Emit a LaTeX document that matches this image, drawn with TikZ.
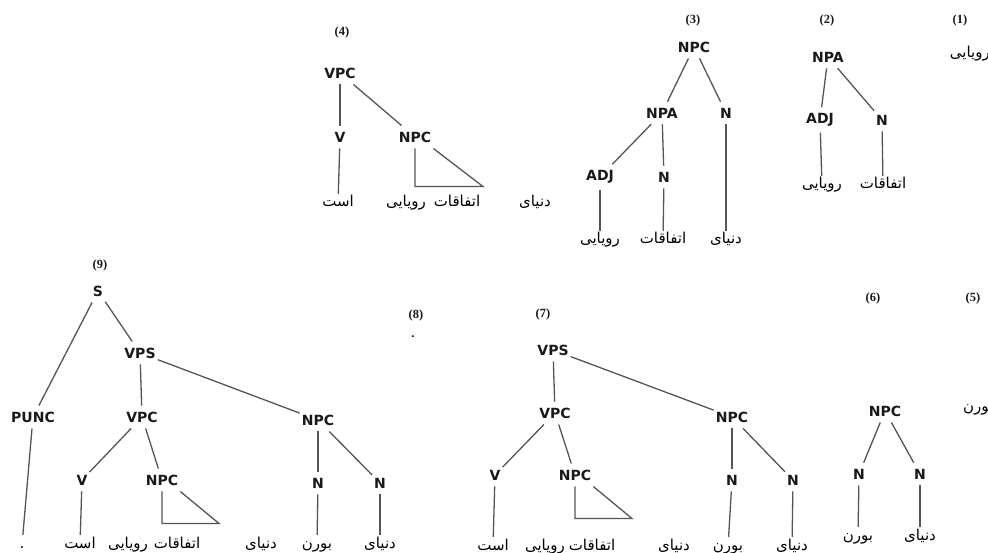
\documentclass[tikz,border=0pt]{standalone}
\usepackage{fontspec}
\TeXXeTstate=1
\newfontfamily\labfont{DejaVu Sans}
\newfontfamily\persfont[Script=Arabic]{DejaVu Sans}
\newfontfamily\numfont{Liberation Serif}
\newcommand\faword[1]{{\persfont\beginR #1\endR}}
\definecolor{lncol}{RGB}{85,85,85}
\definecolor{txcol}{RGB}{25,25,25}
\tikzset{
  lab/.style={font=\labfont\bfseries\fontsize{14}{14}\selectfont, text=txcol, inner xsep=2pt, inner ysep=6pt},
  wd/.style={font=\persfont\fontsize{15}{15}\selectfont, text=black, inner xsep=1pt, inner ysep=3pt, text height=10pt, text depth=4pt},
  num/.style={font=\numfont\bfseries\fontsize{12.5}{12.5}\selectfont, text=txcol, inner sep=1pt},
  edge/.style={draw=lncol, line width=1.3pt},
}
\begin{document}
\begin{tikzpicture}[x=1pt,y=-1pt]
\fill[white] (0,0) rectangle (988,553);
\useasboundingbox (0,0) rectangle (988,553);

% ---------- (1)
\node[num] (n1) at (960,20) {(1)};
\node[wd, anchor=east] (a-w) at (991,55) {\faword{رویایی}};

% ---------- (2)
\node[num] (n2) at (827,20) {(2)};
\node[lab] (b-npa) at (828,57) {NPA};
\node[lab] (b-adj) at (820,120) {ADJ};
\node[lab] (b-n) at (882,120) {N};
\node[wd] (b-w1) at (822,186) {\faword{رویایی}};
\node[wd] (b-w2) at (883,186) {\faword{اتفاقات}};
\draw[edge] (b-npa) -- (b-adj);
\draw[edge] (b-npa) -- (b-n);
\draw[edge] (b-adj) -- (b-w1);
\draw[edge] (b-n) -- (b-w2);

% ---------- (3)
\node[num] (n3) at (693,20) {(3)};
\node[lab] (c-npc) at (694,47) {NPC};
\node[lab] (c-npa) at (662,113) {NPA};
\node[lab] (c-n1) at (726,113) {N};
\node[lab] (c-adj) at (600,177) {ADJ};
\node[lab] (c-n2) at (664,177) {N};
\node[wd] (c-w1) at (600,241) {\faword{رویایی}};
\node[wd] (c-w2) at (663,241) {\faword{اتفاقات}};
\node[wd] (c-w3) at (726,241) {\faword{دنیای}};
\draw[edge] (c-npc) -- (c-npa);
\draw[edge] (c-npc) -- (c-n1);
\draw[edge] (c-npa) -- (c-adj);
\draw[edge] (c-npa) -- (c-n2);
\draw[edge] (c-adj) -- (c-w1);
\draw[edge] (c-n2) -- (c-w2);
\draw[edge] (c-n1) -- (c-w3);

% ---------- (4)
\node[num] (n4) at (342,32) {(4)};
\node[lab] (d-vpc) at (340,73) {VPC};
\node[lab] (d-v) at (340,137) {V};
\node[lab] (d-npc) at (415,137) {NPC};
\node[wd] (d-w1) at (338,204) {\faword{است}};
\node[wd] (d-w2) at (406,204) {\faword{رویایی}};
\node[wd] (d-w3) at (457,204) {\faword{اتفاقات}};
\node[wd] (d-w4) at (535,204) {\faword{دنیای}};
\draw[edge] (d-vpc) -- (d-v);
\draw[edge] (d-vpc) -- (d-npc);
\draw[edge] (d-v) -- (d-w1);
\draw[edge] (d-npc.south) -- ++(0,38) -- ++(68,0) -- (d-npc.south east);

% ---------- (5)
\node[num] (n5) at (973,298) {(5)};
\node[wd, anchor=west] (e-w) at (962,408) {\faword{بورن}};

% ---------- (6)
\node[num] (n6) at (873,298) {(6)};
\node[lab] (f-npc) at (885,411) {NPC};
\node[lab] (f-n1) at (859,474) {N};
\node[lab] (f-n2) at (920,474) {N};
\node[wd] (f-w1) at (858,537) {\faword{بورن}};
\node[wd] (f-w2) at (920,537) {\faword{دنیای}};
\draw[edge] (f-npc) -- (f-n1);
\draw[edge] (f-npc) -- (f-n2);
\draw[edge] (f-n1) -- (f-w1);
\draw[edge] (f-n2) -- (f-w2);

% ---------- (7)
\node[num] (n7) at (543,314) {(7)};
\node[lab] (g-vps) at (553,350) {VPS};
\node[lab] (g-vpc) at (555,413) {VPC};
\node[lab] (g-npc) at (732,417) {NPC};
\node[lab] (g-v) at (495,475) {V};
\node[lab] (g-npcs) at (575,475) {NPC};
\node[lab] (g-n1) at (732,480) {N};
\node[lab] (g-n2) at (793,480) {N};
\node[wd] (g-w1) at (493,547) {\faword{است}};
\node[wd] (g-w2) at (545,547) {\faword{رویایی}};
\node[wd] (g-w3) at (592,547) {\faword{اتفاقات}};
\node[wd] (g-w4) at (674,547) {\faword{دنیای}};
\node[wd] (g-w5) at (728,547) {\faword{بورن}};
\node[wd] (g-w6) at (792,547) {\faword{دنیای}};
\draw[edge] (g-vps) -- (g-vpc);
\draw[edge] (g-vps) -- (g-npc);
\draw[edge] (g-vpc) -- (g-v);
\draw[edge] (g-vpc) -- (g-npcs);
\draw[edge] (g-npc) -- (g-n1);
\draw[edge] (g-npc) -- (g-n2);
\draw[edge] (g-v) -- (g-w1);
\draw[edge] (g-n1) -- (g-w5);
\draw[edge] (g-n2) -- (g-w6);
\draw[edge] (g-npcs.south) -- ++(0,32) -- ++(57,0) -- (g-npcs.south east);

% ---------- (8)
\node[num] (n8) at (416,315) {(8)};
\node[num] (h-dot) at (413,337) {.};

% ---------- (9)
\node[num] (n9) at (100,265) {(9)};
\node[lab] (i-s) at (98,291) {S};
\node[lab] (i-vps) at (140,353) {VPS};
\node[lab] (i-punc) at (33,417) {PUNC};
\node[lab] (i-vpc) at (142,417) {VPC};
\node[lab] (i-npc) at (318,420) {NPC};
\node[lab] (i-v) at (82,480) {V};
\node[lab] (i-npcs) at (162,480) {NPC};
\node[lab] (i-n1) at (318,483) {N};
\node[lab] (i-n2) at (380,483) {N};
\node[wd] (i-w0) at (22,545) {.};
\node[wd] (i-w1) at (80,545) {\faword{است}};
\node[wd] (i-w2) at (128,545) {\faword{رویایی}};
\node[wd] (i-w3) at (177,545) {\faword{اتفاقات}};
\node[wd] (i-w4) at (261,545) {\faword{دنیای}};
\node[wd] (i-w5) at (317,545) {\faword{بورن}};
\node[wd] (i-w6) at (380,545) {\faword{دنیای}};
\draw[edge] (i-s) -- (i-punc);
\draw[edge] (i-s) -- (i-vps);
\draw[edge] (i-vps) -- (i-vpc);
\draw[edge] (i-vps) -- (i-npc);
\draw[edge] (i-punc) -- (i-w0);
\draw[edge] (i-vpc) -- (i-v);
\draw[edge] (i-vpc) -- (i-npcs);
\draw[edge] (i-npc) -- (i-n1);
\draw[edge] (i-npc) -- (i-n2);
\draw[edge] (i-v) -- (i-w1);
\draw[edge] (i-n1) -- (i-w5);
\draw[edge] (i-n2) -- (i-w6);
\draw[edge] (i-npcs.south) -- ++(0,32) -- ++(57,0) -- (i-npcs.south east);
\end{tikzpicture}
\end{document}
